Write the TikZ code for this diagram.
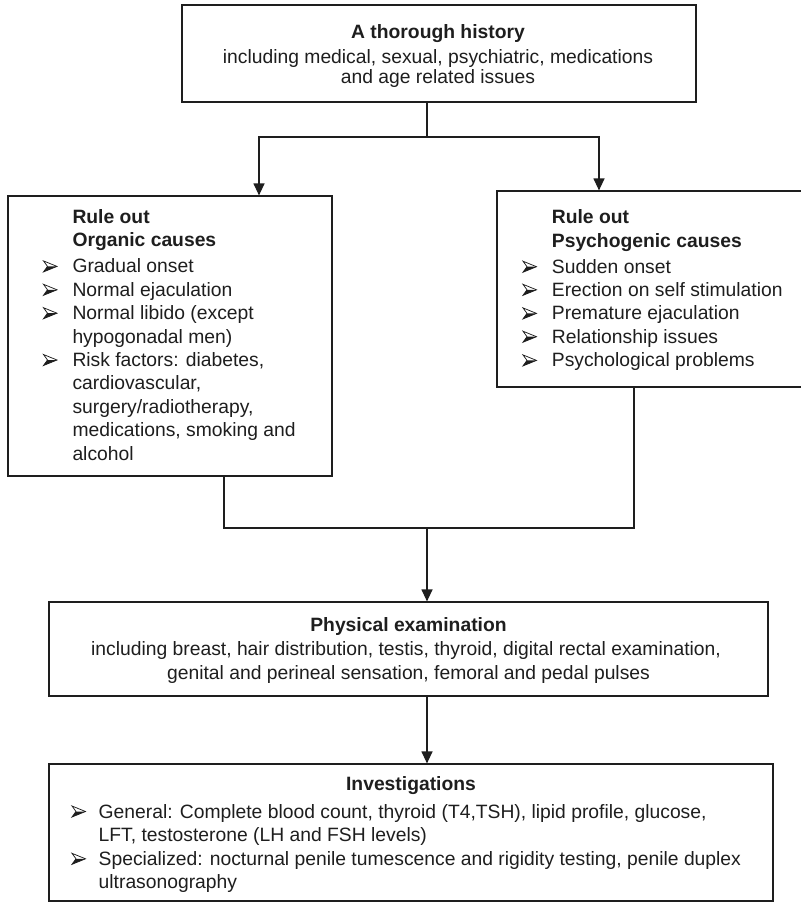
\documentclass[tikz,border=0pt]{standalone}
\usepackage{fontspec}
\setmainfont{Liberation Sans}
\usetikzlibrary{arrows.meta}
\definecolor{ink}{HTML}{1E1E1E}
\begin{document}
\begin{tikzpicture}[x=1pt,y=-1pt,
  box/.style={draw=ink, line width=1.2pt, inner sep=0pt, fill=none},
  conn/.style={draw=ink, line width=1.2pt},
  arr/.style={conn, -{Triangle[width=11pt,length=12pt]}},
  txt/.style={inner sep=0pt, text=ink, anchor=base west, font=\fontsize{19.3}{23.4}\selectfont},
  ctxt/.style={txt, anchor=base},
  btxt/.style={txt, font=\fontsize{19.3}{23.4}\selectfont\bfseries},
  cbtxt/.style={btxt, anchor=base},
  arrowbul/.pic={
    \fill[ink] (4,0) -- (13.5,0) -- (0,5.5) -- cycle;
    \draw[ink, line width=0.75pt, line join=miter] (0,-5.5) -- (13.5,0) -- (0,5.5) -- (4,0) -- cycle;
  }]
\useasboundingbox (0,0) rectangle (801,903);
\fill[white] (0,0) rectangle (801,903);

% boxes
\node[box, minimum width=514pt, minimum height=97pt] (hist) at (439,53.5) {};
\node[box, minimum width=324pt, minimum height=280pt] (org) at (170,336) {};
\node[box, minimum width=320pt, minimum height=196pt] (psy) at (657,289) {};
\node[box, minimum width=719pt, minimum height=94pt] (phys) at (408.5,649) {};
\node[box, minimum width=724pt, minimum height=137pt] (inv) at (411,832.5) {};

% connector coordinates
\coordinate (split) at (427,137);
\coordinate (lx) at (259,137);
\coordinate (rx) at (599,137);
\coordinate (jl) at (224,528);
\coordinate (jr) at (634,528);
\coordinate (jm) at (427,528);

\draw[conn] (hist.south -| split) -- (split);
\draw[arr] (split) -- (lx) -- (lx |- org.north);
\draw[arr] (split) -- (rx) -- (rx |- psy.north);
\draw[conn] (org.south -| jl) -- (jl) -- (jr) -- (psy.south -| jr);
\draw[arr] (jm) -- (jm |- phys.north);
\draw[arr] (phys.south -| jm) -- (jm |- inv.north);

% top box text
\node[cbtxt] (h1) at (438,38) {A thorough history};
\node[ctxt] (h2) at (438,63.5) {including medical, sexual, psychiatric, medications};
\node[ctxt] (h3) at (438,83) {and age related issues};

% organic box text
\node[btxt] (o1) at (72.3,223.6) {Rule out};
\node[btxt] (o2) at (72.3,246.9) {Organic causes};
\pic at (43.5,266.4) {arrowbul};
\node[txt] (o3) at (72.3,272.9) {Gradual onset};
\pic at (43.5,289.8) {arrowbul};
\node[txt] (o4) at (72.3,296.3) {Normal ejaculation};
\pic at (43.5,313.2) {arrowbul};
\node[txt] (o5) at (72.3,319.7) {Normal libido (except};
\node[txt] (o6) at (72.3,343.1) {hypogonadal men)};
\pic at (43.5,360) {arrowbul};
\node[txt] (o7) at (72.3,366.5) {Risk factors: diabetes,};
\node[txt] (o8) at (72.3,389.9) {cardiovascular,};
\node[txt] (o9) at (72.3,413.3) {surgery/radiotherapy,};
\node[txt] (o10) at (72.3,436.7) {medications, smoking and};
\node[txt] (o11) at (72.3,460.1) {alcohol};

% psychogenic box text
\node[btxt] (p1) at (551.7,223.6) {Rule out};
\node[btxt] (p2) at (551.7,247.4) {Psychogenic causes};
\pic at (523,266.7) {arrowbul};
\node[txt] (p3) at (551.7,273.2) {Sudden onset};
\pic at (523,289.8) {arrowbul};
\node[txt] (p4) at (551.7,296.3) {Erection on self stimulation};
\pic at (523,313.4) {arrowbul};
\node[txt] (p5) at (551.7,319.9) {Premature ejaculation};
\pic at (523,336.7) {arrowbul};
\node[txt] (p6) at (551.7,343.2) {Relationship issues};
\pic at (523,360.4) {arrowbul};
\node[txt] (p7) at (551.7,366.9) {Psychological problems};

% physical examination text
\node[cbtxt] (e1) at (408.5,631.7) {Physical examination};
\node[ctxt] (e2) at (406,655) {including breast, hair distribution, testis, thyroid, digital rectal examination,};
\node[ctxt] (e3) at (408.5,679) {genital and perineal sensation, femoral and pedal pulses};

% investigations text
\node[cbtxt] (i1) at (411,790) {Investigations};
\pic at (72,811.5) {arrowbul};
\node[txt] (i2) at (98.5,818) {General: Complete blood count, thyroid (T4,TSH), lipid profile, glucose,};
\node[txt] (i3) at (98.5,841.7) {LFT, testosterone (LH and FSH levels)};
\pic at (72,858.8) {arrowbul};
\node[txt] (i4) at (98.5,865.3) {Specialized: nocturnal penile tumescence and rigidity testing, penile duplex};
\node[txt] (i5) at (98.5,888.7) {ultrasonography};
\end{tikzpicture}
\end{document}
